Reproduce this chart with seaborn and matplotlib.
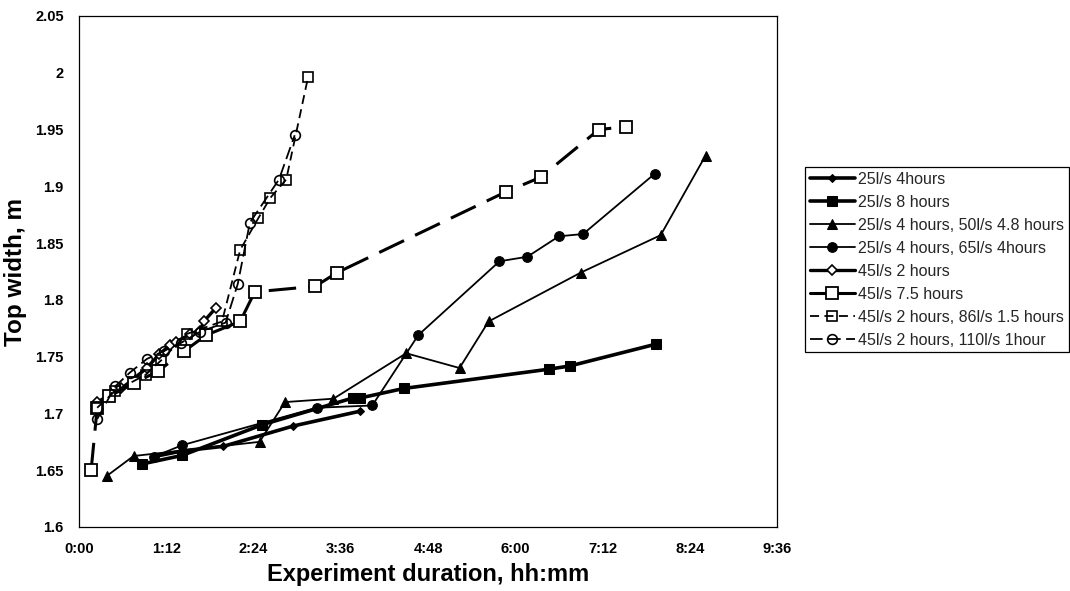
import matplotlib
matplotlib.use("Agg")
import matplotlib.pyplot as plt
import seaborn as sns
import pandas as pd

# ---------------- data (minutes since start, top width in m) ----------------
s1_label = "25l/s 4hours"
s1_min = [62, 85, 119, 177, 232]
s1_w = [1.662, 1.667, 1.671, 1.689, 1.702]

s2_label = "25l/s 8 hours"
s2_min = [52, 85, 151, 226, 232, 268, 388, 405, 476]
s2_w = [1.6555, 1.663, 1.690, 1.7136, 1.7136, 1.722, 1.739, 1.7418, 1.761]

s3_label = "25l/s 4 hours, 50l/s 4.8 hours"
s3_min = [23, 45, 149, 170, 210, 270, 314, 338, 414, 480, 517]
s3_w = [1.645, 1.6625, 1.675, 1.710, 1.713, 1.753, 1.740, 1.781, 1.824, 1.857, 1.927]

s4_label = "25l/s 4 hours, 65l/s 4hours"
s4_min = [62, 85, 196, 242, 280, 347, 370, 396, 416, 475]
s4_w = [1.662, 1.672, 1.705, 1.707, 1.769, 1.834, 1.838, 1.856, 1.858, 1.911]

s5_label = "45l/s 2 hours"
s5_min = [15, 35, 56, 66, 75, 80, 92, 100, 103, 113]
s5_w = [1.710, 1.722, 1.740, 1.752, 1.760, 1.763, 1.770, 1.773, 1.781, 1.793]

s6_label = "45l/s 7.5 hours"
s6_min = [10, 15, 25, 45, 65, 87, 105, 133, 145, 195, 213, 352, 381, 429, 451]
s6_w = [1.650, 1.705, 1.715, 1.7265, 1.737, 1.755, 1.769, 1.781, 1.807, 1.812,
        1.824, 1.895, 1.908, 1.950, 1.9525]

s7_label = "45l/s 2 hours, 86l/s 1.5 hours"
s7_min = [15, 30, 55, 68, 89, 118, 133, 148, 158, 171, 189]
s7_w = [1.705, 1.720, 1.734, 1.747, 1.770, 1.781, 1.844, 1.872, 1.890, 1.906, 1.996]

s8_label = "45l/s 2 hours, 110l/s 1hour"
s8_min = [15, 30, 42, 56, 70, 84, 100, 121, 131, 141, 165, 178]
s8_w = [1.695, 1.724, 1.736, 1.748, 1.755, 1.762, 1.772, 1.780, 1.814, 1.868, 1.906, 1.945]

x_ticks = [0, 72, 144, 216, 288, 360, 432, 504, 576]
x_tick_labels = ["0:00", "1:12", "2:24", "3:36", "4:48", "6:00", "7:12", "8:24", "9:36"]
y_ticks = [1.6, 1.65, 1.7, 1.75, 1.8, 1.85, 1.9, 1.95, 2.0, 2.05]
y_tick_labels = ["1.6", "1.65", "1.7", "1.75", "1.8", "1.85", "1.9", "1.95", "2", "2.05"]

# ---------------- style ----------------
sns.set_theme(style="white")
plt.rcParams["font.family"] = ["Liberation Sans", "DejaVu Sans"]

fig = plt.figure(figsize=(10.7, 5.91), dpi=100)
ax = fig.add_axes([79 / 1070, 1 - 527 / 591, (777 - 79) / 1070, (527 - 16) / 591])

series = [
    (s1_label, s1_min, s1_w, dict(lw=2.6, marker="D", ms=4.5, mfc="black", mec="black", ls="-")),
    (s2_label, s2_min, s2_w, dict(lw=2.6, marker="s", ms=7, mfc="black", mec="black", ls="-")),
    (s3_label, s3_min, s3_w, dict(lw=1.3, marker="^", ms=7.5, mfc="black", mec="black", ls="-")),
    (s4_label, s4_min, s4_w, dict(lw=1.3, marker="o", ms=7, mfc="black", mec="black", ls="-")),
    (s5_label, s5_min, s5_w, dict(lw=2.4, marker="D", ms=5, mfc="white", mec="black", mew=1.2, ls="-")),
    (s6_label, s6_min, s6_w, dict(lw=2.2, marker="s", ms=8, mfc="white", mec="black", mew=1.3,
                                  dashes=(9, 4))),
    (s7_label, s7_min, s7_w, dict(lw=1.3, marker="s", ms=7.5, mfc="none", mec="black", mew=1.2,
                                  dashes=(5, 3))),
    (s8_label, s8_min, s8_w, dict(lw=1.3, marker="o", ms=7, mfc="none", mec="black", mew=1.2,
                                  dashes=(7, 3))),
]

handles = []
for label, mins, ws, kw in series:
    df = pd.DataFrame({"minutes": mins, "width": ws})
    n_before = len(ax.get_lines())
    sns.lineplot(data=df, x="minutes", y="width", ax=ax, color="black",
                 estimator=None, sort=False, label=label, legend=False, **kw)
    handles.append(ax.get_lines()[n_before])

ax.set_xlim(0, 576)
ax.set_ylim(1.6, 2.05)
ax.set_xticks(x_ticks)
ax.set_xticklabels(x_tick_labels)
ax.set_yticks(y_ticks)
ax.set_yticklabels(y_tick_labels)
ax.tick_params(axis="both", direction="inout", length=6, width=0.8, color="black",
               labelsize=10.5, pad=8)
for t in ax.get_xticklabels() + ax.get_yticklabels():
    t.set_fontweight("bold")
    t.set_color("black")

for sp in ax.spines.values():
    sp.set_visible(True)
    sp.set_color("black")
    sp.set_linewidth(0.9)

ax.set_xlabel("Experiment duration, hh:mm", fontsize=17, fontweight="bold", color="black", labelpad=5)
ax.set_ylabel("Top width, m", fontsize=17.5, fontweight="bold", color="black", labelpad=6)

leg = fig.legend(handles=handles, labels=[s[0] for s in series],
                 loc="upper left", bbox_to_anchor=(805 / 1070, 1 - 167 / 591),
                 frameon=True, fancybox=False, edgecolor="black", framealpha=1,
                 fontsize=11.5, handlelength=2.8, handletextpad=0.2,
                 labelspacing=0.5, borderpad=0.3, borderaxespad=0)
leg.get_frame().set_linewidth(0.9)
# the legend sample for the 7.5-hour run is drawn solid in the reference
leg.legend_handles[5].set_linestyle("-")

fig.savefig("out.png", dpi=100, facecolor="white")
